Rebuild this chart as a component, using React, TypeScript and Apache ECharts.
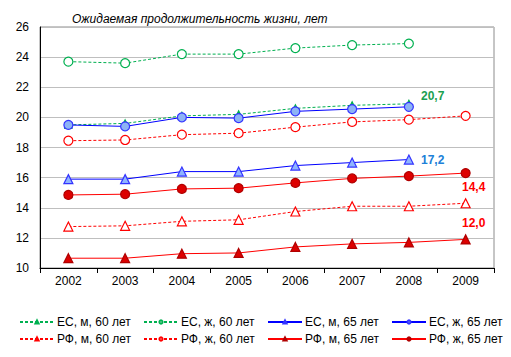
import React, { useEffect, useRef } from "react";
import * as echarts from "echarts";

const years = ["2002", "2003", "2004", "2005", "2006", "2007", "2008", "2009"];
const euM60 = [19.5, 19.6, 20.1, 20.2, 20.6, 20.8, 20.9, null];
const euF60 = [23.7, 23.6, 24.2, 24.2, 24.6, 24.8, 24.9, null];
const euM65 = [15.9, 15.9, 16.4, 16.4, 16.8, 17.0, 17.2, null];
const euF65 = [19.5, 19.4, 20.0, 19.95, 20.4, 20.55, 20.7, null];
const rfM60 = [12.75, 12.8, 13.1, 13.2, 13.75, 14.1, 14.1, 14.3];
const rfF60 = [18.45, 18.5, 18.85, 18.95, 19.35, 19.7, 19.85, 20.1];
const rfM65 = [10.65, 10.65, 10.95, 11.0, 11.4, 11.6, 11.7, 11.9];
const rfF65 = [14.85, 14.9, 15.25, 15.3, 15.65, 15.95, 16.1, 16.3];
const yTicks = { min: 10, max: 26, interval: 2 };
const title = "Ожидаемая продолжительность жизни, лет";
const names = [
  "ЕС, м, 60 лет",
  "ЕС, ж, 60 лет",
  "ЕС, м, 65 лет",
  "ЕС, ж, 65 лет",
  "РФ, м, 60 лет",
  "РФ, ж, 60 лет",
  "РФ, м, 65 лет",
  "РФ, ж, 65 лет",
];

const FONT = "'Liberation Sans', Arial, sans-serif";
const GREEN = "#00B050";
const BLUE = "#0000FF";
const RED = "#FF0000";

function withLabel(arr: (number | null)[], idx: number, text: string, color: string, position: string, offset: number[]) {
  return arr.map((v, i) =>
    i === idx
      ? {
          value: v,
          label: {
            show: true,
            formatter: text,
            position,
            offset,
            color,
            fontWeight: "bold",
            fontSize: 12,
            fontFamily: FONT,
          },
        }
      : v
  );
}

export default function App() {
  const ref = useRef<HTMLDivElement>(null);
  useEffect(() => {
    if (!ref.current) return;
    const chart = echarts.init(ref.current, null, { renderer: "svg" });
    const mk = (
      name: string,
      data: any[],
      color: string,
      dashed: boolean,
      symbol: string,
      fill: string,
      border: string,
      size: number
    ) => ({
      name,
      type: "line",
      data,
      symbol,
      symbolSize: size,
      showAllSymbol: true,
      connectNulls: false,
      lineStyle: { color, width: 1, type: dashed ? [3, 2] : "solid" },
      itemStyle: { color: fill, borderColor: border, borderWidth: 1.2 },
      emphasis: { disabled: true },
    });
    const series = [
      mk(names[0], euM60, GREEN, true, "triangle", GREEN, GREEN, 7),
      mk(names[1], euF60, GREEN, true, "circle", "#ffffff", GREEN, 9),
      mk(names[2], withLabel(euM65, 6, "17,2", "#2080D8", "right", [2, 0]), BLUE, false, "triangle", "#8FB4FF", "#3333FF", 9),
      mk(names[3], withLabel(euF65, 6, "20,7", "#1AA050", "right", [2, -11]), BLUE, false, "circle", "#8DB3F5", "#3333FF", 9),
      mk(names[4], withLabel(rfM60, 7, "14,4", RED, "top", [8, 0]), RED, true, "triangle", "#ffffff", RED, 9),
      mk(names[5], rfF60, RED, true, "circle", "#ffffff", RED, 9),
      mk(names[6], withLabel(rfM65, 7, "12,0", RED, "top", [8, 0]), RED, false, "triangle", "#DD0000", "#B00000", 9),
      mk(names[7], rfF65, RED, false, "circle", "#DD0000", "#B00000", 9),
    ];
    const colX = [19, 143, 267, 391];
    const rowY = [315, 332];
    const legends = names.map((n, i) => ({
      data: [n],
      left: colX[i % 4],
      top: rowY[Math.floor(i / 4)],
      itemWidth: 34,
      itemHeight: 4,
      itemGap: 0,
      padding: 0,
      textStyle: { fontSize: 12, fontFamily: FONT, color: "#000", padding: [0, 0, 0, -2], lineHeight: 14 },
      selectedMode: false,
    }));
    chart.setOption({
      animation: false,
      title: {
        text: title,
        left: 67,
        top: 8,
        textStyle: { fontSize: 12, fontStyle: "italic", fontWeight: "normal", fontFamily: FONT, color: "#000" },
      },
      legend: legends,
      grid: {
        left: 40,
        right: 17,
        top: 27,
        bottom: 89,
        show: true,
        borderColor: "#8C8C8C",
        borderWidth: 1,
        backgroundColor: "transparent",
      },
      xAxis: {
        type: "category",
        data: years,
        boundaryGap: true,
        axisLine: { lineStyle: { color: "#000", width: 1 } },
        axisTick: { show: true, alignWithLabel: false, length: 5, lineStyle: { color: "#000" } },
        axisLabel: { fontSize: 12, fontFamily: FONT, color: "#000", margin: 7 },
      },
      yAxis: {
        type: "value",
        min: yTicks.min,
        max: yTicks.max,
        interval: yTicks.interval,
        axisLine: { show: true, lineStyle: { color: "#000", width: 1 } },
        axisTick: { show: false },
        splitLine: { lineStyle: { color: "#BFBFBF", width: 1 } },
        axisLabel: { fontSize: 12, fontFamily: FONT, color: "#000", margin: 11 },
      },
      series,
    });
    return () => chart.dispose();
  }, []);
  return <div ref={ref} style={{ width: 511, height: 357, position: "absolute", left: 0, top: 0 }} />;
}
